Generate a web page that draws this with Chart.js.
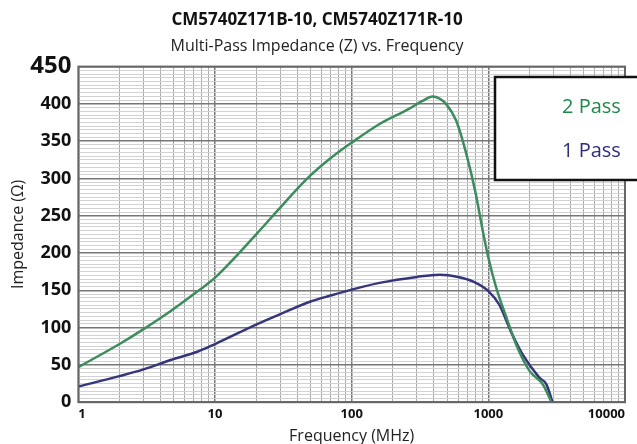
<!DOCTYPE html>
<html lang="en">
<head>
    <meta charset="UTF-8">
    <title>CM5740Z171 Impedance vs Frequency</title>
    <style>
        body {
            margin: 0;
            padding: 0;
            background-color: #fff;
        }

        .container {
            width: 637px;
            height: 444px;
        }
    </style>
</head>
<body>
    <div class="container">
        <canvas id="chart" width="637" height="444"></canvas>
    </div>

    <script src="https://cdn.jsdelivr.net/npm/chart.js"></script>
    <script>
        // frequency (MHz) and impedance (ohm)
        const twoPassFreq = [1, 2, 3, 4.8, 7.5, 10, 20, 30, 48, 71, 100, 160, 260, 330, 390, 440, 490, 580, 690, 810, 910, 1000, 1140, 1360, 1600, 2000, 2500, 2900];
        const twoPassZ = [47, 78, 98, 123, 149, 167, 225, 261, 301, 328, 348, 373, 393, 404, 410, 407, 400, 378, 333, 279, 230, 194, 154, 113, 77, 42, 24, 0];

        const onePassFreq = [1, 2, 3, 4.8, 7.5, 10, 20, 30, 50, 70, 100, 160, 300, 440, 600, 770, 1000, 1200, 1460, 1780, 2360, 2660, 2950];
        const onePassZ = [21, 35, 44, 57, 68, 78, 104, 118, 135, 143, 151, 160, 168, 171, 168, 162, 149, 131, 95, 64, 33, 24, 0];

        const seriesLabels = ['2 Pass', '1 Pass'];
        const lineColors = ['#3d8c5e', '#35357c'];
        const legendColors = ['#1e8a4a', '#2d2d7e'];

        const yTickLabels = [0, 50, 100, 150, 200, 250, 300, 350, 400, 450];
        const xTickLabels = [1, 10, 100, 1000, 10000];

        function toPoints(xs, ys) {
            return xs.map((x, i) => ({ x: x, y: ys[i] }));
        }

        // frame round the plot and the boxed legend at top right
        const framePlugin = {
            id: 'frame',
            afterDraw(chart) {
                const ctx = chart.ctx;
                const a = chart.chartArea;
                ctx.save();
                ctx.strokeStyle = '#666';
                ctx.lineWidth = 2;
                ctx.strokeRect(a.left, a.top, a.right - a.left, a.bottom - a.top);

                ctx.fillStyle = '#fff';
                ctx.fillRect(495, 77, 150, 103);
                ctx.strokeStyle = '#111';
                ctx.lineWidth = 2.5;
                ctx.strokeRect(495, 77, 150, 103);

                ctx.font = '20px "Open Sans"';
                ctx.textBaseline = 'middle';
                ctx.textAlign = 'left';
                chart.data.datasets.forEach((ds, i) => {
                    ctx.fillStyle = legendColors[i];
                    ctx.fillText(ds.label, 562, 107 + i * 44);
                });
                ctx.restore();
            }
        };

        const ctx = document.getElementById('chart').getContext('2d');
        new Chart(ctx, {
            type: 'line',
            data: {
                datasets: [
                    {
                        label: seriesLabels[0],
                        data: toPoints(twoPassFreq, twoPassZ),
                        borderColor: lineColors[0],
                        borderWidth: 2.5,
                        pointRadius: 0,
                        cubicInterpolationMode: 'monotone',
                    },
                    {
                        label: seriesLabels[1],
                        data: toPoints(onePassFreq, onePassZ),
                        borderColor: lineColors[1],
                        borderWidth: 2.5,
                        pointRadius: 0,
                        cubicInterpolationMode: 'monotone',
                    },
                ],
            },
            options: {
                responsive: false,
                animation: false,
                layout: {
                    padding: { top: 10, right: 12, bottom: -2, left: 9 },
                },
                plugins: {
                    legend: { display: false },
                    tooltip: { enabled: false },
                    title: {
                        display: true,
                        text: 'CM5740Z171B-10, CM5740Z171R-10',
                        color: '#111',
                        font: { family: 'Open Sans', size: 17, weight: 'bold' },
                        padding: { top: 0, bottom: 6 },
                    },
                    subtitle: {
                        display: true,
                        text: 'Multi-Pass Impedance (Z) vs. Frequency',
                        color: '#222',
                        font: { family: 'Open Sans', size: 16 },
                        padding: { top: 0, bottom: 11 },
                    },
                },
                scales: {
                    x: {
                        type: 'logarithmic',
                        min: 1,
                        max: 10000,
                        afterBuildTicks(scale) {
                            const ticks = [];
                            for (let e = 0; e < 4; e++) {
                                for (let m = 1; m < 10; m++) {
                                    ticks.push({ value: m * Math.pow(10, e) });
                                }
                            }
                            ticks.push({ value: 10000 });
                            scale.ticks = ticks;
                        },
                        ticks: {
                            autoSkip: false,
                            maxRotation: 0,
                            align: 'inner',
                            padding: 4,
                            color: '#111',
                            font: { family: 'Open Sans', size: 13, weight: 'bold' },
                            callback: (v) => xTickLabels.includes(v) ? String(v) : '',
                        },
                        grid: {
                            drawTicks: false,
                            color: (c) => xTickLabels.includes(c.tick && c.tick.value) ? '#777' : '#aaa',
                            lineWidth: (c) => xTickLabels.includes(c.tick && c.tick.value) ? 1.5 : 1,
                        },
                        border: { display: false },
                        title: {
                            display: true,
                            text: 'Frequency (MHz)',
                            color: '#222',
                            font: { family: 'Open Sans', size: 16 },
                            padding: { top: 1, bottom: 0 },
                        },
                    },
                    y: {
                        min: 0,
                        max: 450,
                        afterBuildTicks(scale) {
                            const ticks = [];
                            for (let v = 0; v <= 450; v += 5) {
                                ticks.push({ value: v });
                            }
                            scale.ticks = ticks;
                        },
                        ticks: {
                            autoSkip: false,
                            padding: 7,
                            color: '#111',
                            font: (c) => ({
                                family: 'Open Sans',
                                size: c.tick && c.tick.value === 450 ? 24 : 18,
                                weight: 'bold',
                            }),
                            callback: (v) => yTickLabels.includes(v) ? String(v) : '',
                        },
                        grid: {
                            drawTicks: false,
                            color: (c) => yTickLabels.includes(c.tick && c.tick.value) ? '#777' : '#d2d2d2',
                            lineWidth: (c) => yTickLabels.includes(c.tick && c.tick.value) ? 1.5 : 1,
                        },
                        border: { display: false },
                        title: {
                            display: true,
                            text: 'Impedance (\u03A9)',
                            color: '#222',
                            font: { family: 'Open Sans', size: 16 },
                            padding: { top: 0, bottom: -5 },
                        },
                    },
                },
            },
            plugins: [framePlugin],
        });
    </script>
</body>
</html>
